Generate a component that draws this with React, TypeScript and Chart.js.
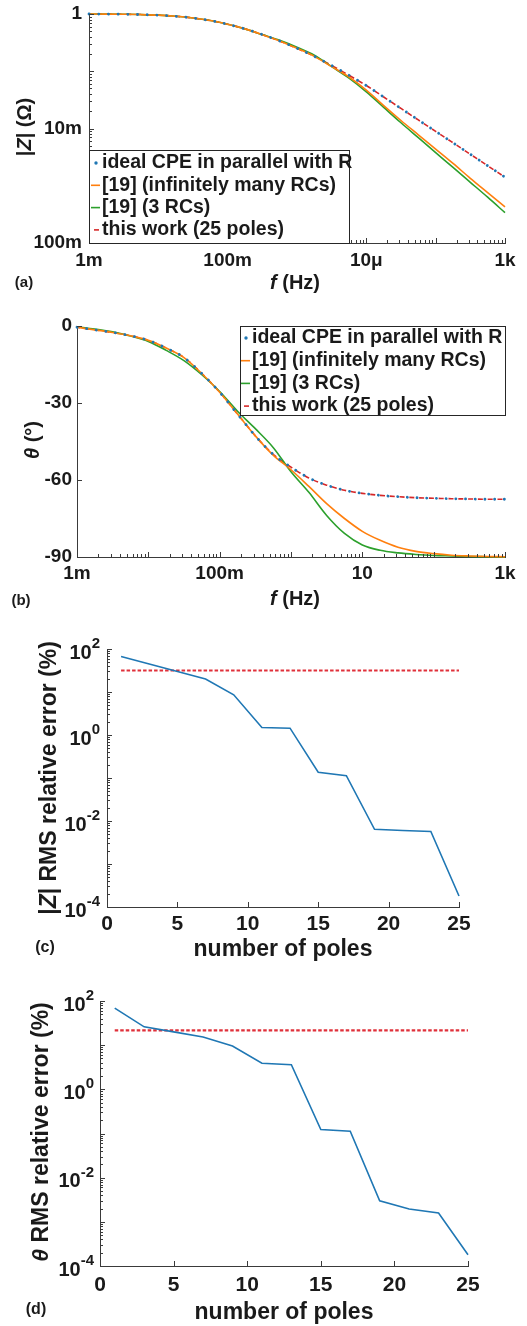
import React, { useEffect, useRef } from 'react';
import { Chart, registerables } from 'chart.js';

Chart.register(...registerables);

const FONT = "'Liberation Sans', Arial, Helvetica, sans-serif";
Chart.defaults.font.family = FONT;

const BLUE = '#1f77b4';
const ORANGE = '#ff7f0e';
const GREEN = '#2ca02c';
const RED = '#d62728';
const TEXT = '#1a1a1a';
const AXIS = '#3a3a3a';

// ---------------- data ----------------
const freqHz = [0.001, 0.00178, 0.00316, 0.00562, 0.01, 0.0178, 0.0316, 0.0562, 0.1, 0.178, 0.316, 0.562, 1, 1.78, 3.16, 5.62, 10, 17.8, 31.6, 56.2, 100, 178, 316, 562, 1000];

const magIdealCPE = [1, 0.9954, 0.9886, 0.9772, 0.955, 0.912, 0.8511, 0.7674, 0.6607, 0.5495, 0.4365, 0.3388, 0.2512, 0.182, 0.1259, 0.0851, 0.0562, 0.0355, 0.0224, 0.0141, 0.00891, 0.00562, 0.00355, 0.00224, 0.00141];
const magInfiniteRC = [1, 0.9954, 0.9886, 0.9772, 0.955, 0.912, 0.8511, 0.7674, 0.6607, 0.5495, 0.4365, 0.3388, 0.2512, 0.182, 0.1202, 0.0794, 0.0468, 0.0251, 0.0138, 0.00776, 0.00437, 0.00245, 0.00135, 0.000759, 0.000427];
const magThreeRC = [1, 0.9954, 0.9886, 0.9772, 0.955, 0.912, 0.8511, 0.7674, 0.6607, 0.5495, 0.4365, 0.3467, 0.263, 0.1905, 0.1202, 0.0759, 0.0437, 0.0234, 0.0126, 0.00692, 0.0038, 0.00209, 0.00115, 0.000631, 0.000339];
const magThisWork = [1, 0.9954, 0.9886, 0.9772, 0.955, 0.912, 0.8511, 0.7674, 0.6607, 0.5495, 0.4365, 0.3388, 0.2512, 0.182, 0.1259, 0.0851, 0.0562, 0.0355, 0.0224, 0.0141, 0.00891, 0.00562, 0.00355, 0.00224, 0.00141];

const phaseIdealCPE = [-0.5, -1.5, -2.5, -3.8, -5.6, -8.6, -12.3, -18.5, -25.8, -34.3, -42.8, -50.0, -55.0, -59.2, -62.0, -64.0, -65.2, -66.0, -66.5, -66.9, -67.1, -67.3, -67.4, -67.5, -67.5];
const phaseInfiniteRC = [-0.5, -1.5, -2.5, -3.8, -5.6, -8.6, -12.3, -18.5, -25.8, -34.3, -42.8, -50.3, -56.0, -62.5, -69.2, -75.0, -80.0, -83.5, -86.2, -87.8, -88.7, -89.3, -89.6, -89.8, -89.9];
const phaseThreeRC = [-0.3, -1.2, -2.3, -3.9, -6.0, -9.5, -13.5, -19.0, -25.5, -33.2, -40.0, -47.3, -56.8, -64.8, -73.8, -80.8, -85.3, -87.4, -88.4, -89.0, -89.4, -89.6, -89.8, -89.9, -90.0];
const phaseThisWork = [-0.5, -1.5, -2.5, -3.8, -5.6, -8.6, -12.3, -18.5, -25.8, -34.3, -42.8, -50.0, -55.0, -59.2, -62.0, -64.0, -65.2, -66.0, -66.5, -66.9, -67.1, -67.3, -67.4, -67.5, -67.5];

const numPoles = [1, 3, 5, 7, 9, 11, 13, 15, 17, 19, 21, 23, 25];
const magErrThisWork = [67, 45, 30, 20, 8.6, 1.49, 1.44, 0.136, 0.113, 0.0064, 0.006, 0.0057, 0.00018];
const magErrRef3RC = [31.6, 31.6, 31.6, 31.6, 31.6, 31.6, 31.6, 31.6, 31.6, 31.6, 31.6, 31.6, 31.6];
const phaseErrThisWork = [69, 26, 20, 15.3, 9.6, 3.9, 3.6, 0.123, 0.113, 0.003, 0.00195, 0.00158, 0.00018];
const phaseErrRef3RC = [21.7, 21.7, 21.7, 21.7, 21.7, 21.7, 21.7, 21.7, 21.7, 21.7, 21.7, 21.7, 21.7];

const seriesLabels = ['ideal CPE in parallel with R', '[19] (infinitely many RCs)', '[19] (3 RCs)', 'this work (25 poles)'];

const freqTickValues = [0.001, 0.1, 10, 1000];
const freqTickLabelsA = ['1m', '100m', '10\u03bc', '1k'];
const freqTickLabelsB = ['1m', '100m', '10', '1k'];
const magTickValues = [1e-4, 1e-2, 1];
const magTickLabels = ['100m', '10m', '1'];
const phaseTickValues = [-90, -60, -30, 0];
const phaseTickLabels = ['-90', '-60', '-30', '0'];
const errTickValues = [1e-4, 1e-2, 1, 100];
const errTickBase = '10';
const errTickExponents = ['-4', '-2', '0', '2'];
const poleTickValues = [0, 5, 10, 15, 20, 25];
const poleTickLabels = ['0', '5', '10', '15', '20', '25'];

// ---------------- helpers ----------------
type Seg = { t: string; i?: boolean };

function drawRich(ctx: any, segs: Seg[], cx: number, cy: number, size: number, rotate: boolean) {
  ctx.save();
  ctx.translate(cx, cy);
  if (rotate) ctx.rotate(-Math.PI / 2);
  const fonts = segs.map((s) => `${s.i ? 'italic ' : ''}bold ${size}px ${FONT}`);
  let total = 0;
  const widths = segs.map((s, k) => {
    ctx.font = fonts[k];
    const w = ctx.measureText(s.t).width;
    total += w;
    return w;
  });
  let x = -total / 2;
  ctx.textBaseline = 'middle';
  ctx.textAlign = 'left';
  ctx.fillStyle = TEXT;
  segs.forEach((s, k) => {
    ctx.font = fonts[k];
    ctx.fillText(s.t, x, 0);
    x += widths[k];
  });
  ctx.restore();
}

function logTickMarks(e0: number, e1: number, majorLen: number, minorLen: number) {
  const out: { v: number; len: number }[] = [];
  for (let e = e0; e <= e1; e++) {
    out.push({ v: Math.pow(10, e), len: majorLen });
    if (e < e1) for (let k = 2; k <= 9; k++) out.push({ v: k * Math.pow(10, e), len: minorLen });
  }
  return out;
}

function makeDecor(d: any) {
  return {
    id: 'decor',
    afterDraw(chart: any) {
      const ctx = chart.ctx;
      const a = chart.chartArea;
      const xs = chart.scales.x;
      const ys = chart.scales.y;
      ctx.save();
      ctx.strokeStyle = AXIS;
      ctx.lineWidth = 1;
      ctx.beginPath();
      d.xTicks.forEach((t: any) => {
        const p = Math.round(xs.getPixelForValue(t.v)) + 0.5;
        ctx.moveTo(p, a.bottom);
        ctx.lineTo(p, a.bottom - t.len);
      });
      d.yTicks.forEach((t: any) => {
        const p = Math.round(ys.getPixelForValue(t.v)) + 0.5;
        ctx.moveTo(a.left, p);
        ctx.lineTo(a.left + t.len, p);
      });
      ctx.stroke();

      // power-of-ten tick labels with raised exponents
      if (d.pow) {
        const P = d.pow;
        ctx.fillStyle = TEXT;
        ctx.textAlign = 'right';
        ctx.textBaseline = 'middle';
        P.values.forEach((v: number, i: number) => {
          const p = ys.getPixelForValue(v);
          const xr = a.left - P.pad;
          ctx.font = `bold ${P.expSize}px ${FONT}`;
          const ew = ctx.measureText(P.exps[i]).width;
          ctx.fillText(P.exps[i], xr, p - 5);
          ctx.font = `bold ${P.baseSize}px ${FONT}`;
          ctx.fillText(P.base, xr - ew, p + 4);
        });
      }

      drawRich(ctx, d.xTitle, d.xTitlePos[0], d.xTitlePos[1], d.titleSize, false);
      drawRich(ctx, d.yTitle, d.yTitlePos[0], d.yTitlePos[1], d.titleSize, true);
      drawRich(ctx, [{ t: d.tag }], d.tagPos[0], d.tagPos[1], d.tagSize, false);

      const L = d.legend;
      if (L) {
        ctx.fillStyle = '#ffffff';
        ctx.fillRect(L.x0, L.y0, L.x1 - L.x0, L.y1 - L.y0);
        ctx.strokeStyle = '#262626';
        ctx.lineWidth = 1;
        ctx.strokeRect(L.x0 + 0.5, L.y0 + 0.5, L.x1 - L.x0 - 1, L.y1 - L.y0 - 1);
        chart.data.datasets.forEach((ds: any, i: number) => {
          const y = L.rowY + i * L.rowStep;
          const kind = L.kinds[i];
          ctx.strokeStyle = ds.borderColor;
          ctx.fillStyle = ds.borderColor;
          ctx.lineWidth = 1.6;
          if (kind === 'dot') {
            ctx.beginPath();
            ctx.arc(L.sampleX + 5, y, 1.7, 0, Math.PI * 2);
            ctx.fill();
          } else if (kind === 'dash') {
            ctx.beginPath();
            ctx.moveTo(L.sampleX + 3, y);
            ctx.lineTo(L.sampleX + 8, y);
            ctx.stroke();
          } else {
            ctx.beginPath();
            ctx.moveTo(L.sampleX, y);
            ctx.lineTo(L.sampleX + 9, y);
            ctx.stroke();
          }
          ctx.font = `bold ${L.size}px ${FONT}`;
          ctx.fillStyle = TEXT;
          ctx.textBaseline = 'middle';
          ctx.textAlign = 'left';
          ctx.fillText(ds.label, L.textX, y);
        });
      }
      ctx.restore();
    },
  };
}

function tickAxis(opts: any) {
  const { type, min, max, values, labels, size, pad, fitW, fitH, hideLabels } = opts;
  const axis: any = {
    type,
    min,
    max,
    afterBuildTicks: (s: any) => {
      s.ticks = values.map((v: number) => ({ value: v }));
    },
    ticks: {
      display: !hideLabels,
      callback: (_v: any, i: number) => (labels ? labels[i] : ''),
      autoSkip: false,
      maxRotation: 0,
      minRotation: 0,
      padding: pad,
      color: TEXT,
      font: { size, weight: 'bold', family: FONT },
    },
    grid: { display: false, drawTicks: false },
    border: { display: true, color: AXIS, width: 1 },
  };
  if (fitW !== undefined) {
    axis.afterFit = (s: any) => {
      s.width = fitW;
      s.paddingTop = 0;
      s.paddingBottom = 0;
    };
  } else {
    axis.afterFit = (s: any) => {
      s.height = fitH;
      s.paddingLeft = 0;
      s.paddingRight = 0;
    };
  }
  return axis;
}

const lineBase = { pointRadius: 0, fill: false, clip: false, tension: 0 };
const smooth = { cubicInterpolationMode: 'monotone' };

function xy(xs: number[], ys: number[]) {
  return xs.map((x, i) => ({ x, y: ys[i] }));
}

function freqDatasets(a: number[], b: number[], c: number[], d: number[]) {
  return [
    { ...lineBase, ...smooth, label: seriesLabels[0], data: xy(freqHz, a), borderColor: BLUE, borderWidth: 2.8, borderDash: [0.1, 9.6], borderCapStyle: 'round' },
    { ...lineBase, ...smooth, label: seriesLabels[1], data: xy(freqHz, b), borderColor: ORANGE, borderWidth: 1.6 },
    { ...lineBase, ...smooth, label: seriesLabels[2], data: xy(freqHz, c), borderColor: GREEN, borderWidth: 1.6 },
    { ...lineBase, ...smooth, label: seriesLabels[3], data: xy(freqHz, d), borderColor: RED, borderWidth: 1.6, borderDash: [5, 4.8], borderDashOffset: 2 },
  ];
}

const commonOpts = {
  responsive: false,
  animation: false,
  devicePixelRatio: 1,
  plugins: { legend: { display: false }, tooltip: { enabled: false } },
};

function buildA() {
  return {
    type: 'line',
    data: { datasets: freqDatasets(magIdealCPE, magInfiniteRC, magThreeRC, magThisWork) },
    options: {
      ...commonOpts,
      layout: { padding: { left: 0, top: 14, right: 22, bottom: 0 } },
      scales: {
        x: tickAxis({ type: 'logarithmic', min: 1e-3, max: 1e3, values: freqTickValues, labels: freqTickLabelsA, size: 19, pad: 6, fitH: 52 }),
        y: tickAxis({ type: 'logarithmic', min: 1e-4, max: 1, values: magTickValues, labels: magTickLabels, size: 19, pad: 7, fitW: 89 }),
      },
    },
    plugins: [
      makeDecor({
        xTicks: logTickMarks(-3, 3, 5, 3),
        yTicks: logTickMarks(-4, 0, 5, 3),
        xTitle: [{ t: 'f', i: true }, { t: ' (Hz)' }],
        xTitlePos: [295, 283],
        yTitle: [{ t: '|' }, { t: 'Z', i: true }, { t: '| (\u03a9)' }],
        yTitlePos: [25, 127],
        titleSize: 20,
        tag: '(a)',
        tagPos: [24, 283],
        tagSize: 15,
        legend: { x0: 89, y0: 150, x1: 350, y1: 244, sampleX: 91, textX: 102, rowY: 163, rowStep: 22.3, kinds: ['dot', 'line', 'line', 'dash'], size: 19.5 },
      }),
    ],
  };
}

function buildB() {
  return {
    type: 'line',
    data: { datasets: freqDatasets(phaseIdealCPE, phaseInfiniteRC, phaseThreeRC, phaseThisWork) },
    options: {
      ...commonOpts,
      layout: { padding: { left: 0, top: 31, right: 22, bottom: 0 } },
      scales: {
        x: tickAxis({ type: 'logarithmic', min: 1e-3, max: 1e3, values: freqTickValues, labels: freqTickLabelsB, size: 19, pad: 5, fitH: 58 }),
        y: tickAxis({ type: 'linear', min: -90, max: 0, values: phaseTickValues, labels: phaseTickLabels, size: 19, pad: 5, fitW: 77 }),
      },
    },
    plugins: [
      makeDecor({
        xTicks: logTickMarks(-3, 3, 5, 3),
        yTicks: phaseTickValues.map((v) => ({ v, len: 5 })),
        xTitle: [{ t: 'f', i: true }, { t: ' (Hz)' }],
        xTitlePos: [295, 304],
        yTitle: [{ t: '\u03b8', i: true }, { t: ' (\u00b0)' }],
        yTitlePos: [33, 145],
        titleSize: 20,
        tag: '(b)',
        tagPos: [21, 306],
        tagSize: 15,
        legend: { x0: 240, y0: 31, x1: 506, y1: 121, sampleX: 241, textX: 252, rowY: 43, rowStep: 22.7, kinds: ['dot', 'line', 'line', 'dash'], size: 19.5 },
      }),
    ],
  };
}

function errDatasets(blue: number[], red: number[]) {
  return [
    { ...lineBase, label: 'this work', data: xy(numPoles, blue), borderColor: BLUE, borderWidth: 1.6 },
    { ...lineBase, label: '[19] (3 RCs)', data: xy(numPoles, red), borderColor: '#e0303a', borderWidth: 2.2, borderDash: [3.5, 2] },
  ];
}

function buildErr(which: 'c' | 'd') {
  const isC = which === 'c';
  return {
    type: 'line',
    data: { datasets: isC ? errDatasets(magErrThisWork, magErrRef3RC) : errDatasets(phaseErrThisWork, phaseErrRef3RC) },
    options: {
      ...commonOpts,
      layout: { padding: { left: 0, top: isC ? 34 : 36, right: isC ? 68 : 59, bottom: 0 } },
      scales: {
        x: tickAxis({ type: 'linear', min: 0, max: 25, values: poleTickValues, labels: poleTickLabels, size: 21, pad: isC ? 5 : 7, fitH: isC ? 58 : 60 }),
        y: tickAxis({ type: 'logarithmic', min: 1e-4, max: 100, values: errTickValues, size: 21, pad: 7, fitW: isC ? 107 : 100, hideLabels: true }),
      },
    },
    plugins: [
      makeDecor({
        xTicks: poleTickValues.map((v) => ({ v, len: 5 })),
        yTicks: logTickMarks(-4, 2, 5, 3),
        pow: { values: errTickValues, base: errTickBase, exps: errTickExponents, baseSize: 20, expSize: 15, pad: isC ? 7 : 6 },
        xTitle: [{ t: 'number of poles' }],
        xTitlePos: isC ? [283, 335] : [284, 348],
        yTitle: isC ? [{ t: '|' }, { t: 'Z', i: true }, { t: '| RMS relative error (%)' }] : [{ t: '\u03b8', i: true }, { t: ' RMS relative error (%)' }],
        yTitlePos: isC ? [50, 163] : [42, 167],
        titleSize: 23,
        tag: isC ? '(c)' : '(d)',
        tagPos: isC ? [45, 333] : [36, 345],
        tagSize: 16,
      }),
    ],
  };
}

function ChartPanel({ top, height, build }: { top: number; height: number; build: () => any }) {
  const ref = useRef<HTMLCanvasElement>(null);
  useEffect(() => {
    const chart = new Chart(ref.current as HTMLCanvasElement, build());
    return () => chart.destroy();
  }, []);
  return (
    <div style={{ position: 'absolute', left: 0, top, width: 527, height }}>
      <canvas ref={ref} width={527} height={height} style={{ display: 'block', width: 527, height }} />
    </div>
  );
}

export default function App() {
  useEffect(() => {
    document.body.style.margin = '0';
    document.body.style.background = '#ffffff';
  }, []);
  return (
    <div style={{ position: 'absolute', left: 0, top: 0, width: 527, height: 1326, background: '#ffffff', overflow: 'hidden' }}>
      <ChartPanel top={0} height={295} build={buildA} />
      <ChartPanel top={295} height={320} build={buildB} />
      <ChartPanel top={615} height={350} build={() => buildErr('c')} />
      <ChartPanel top={965} height={361} build={() => buildErr('d')} />
    </div>
  );
}
